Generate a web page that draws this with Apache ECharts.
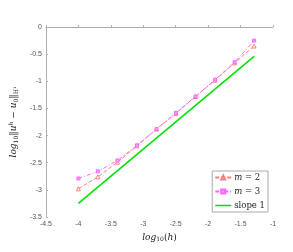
<!DOCTYPE html>
<html>
<head>
<meta charset="utf-8">
<script src="https://cdn.jsdelivr.net/npm/echarts@6/dist/echarts.min.js"></script>
<style>html,body{margin:0;padding:0;background:#fff;}#c{width:293px;height:252px;}</style>
</head>
<body>
<div id="c"></div>
<script>
const logH = [-4, -3.699, -3.398, -3.097, -2.796, -2.495, -2.194, -1.893, -1.592, -1.291];
const errM2 = [-2.98, -2.76, -2.49, -2.19, -1.88, -1.59, -1.28, -0.98, -0.66, -0.35];
const errM3 = [-2.79, -2.66, -2.46, -2.18, -1.88, -1.58, -1.28, -0.97, -0.65, -0.25];
const slopeX = [-4, -1.291];
const slopeY = [-3.25, -0.541];
const seriesNames = ['m2', 'm3', 'slope'];

const chart = echarts.init(document.getElementById('c'));
const axisCommon = {
  axisLine: {show: true, lineStyle: {color: '#b0b0b0', width: 1}},
  axisTick: {show: true, inside: true, length: 2, lineStyle: {color: '#b0b0b0'}},
  axisLabel: {color: '#555', fontSize: 7, fontFamily: 'Liberation Sans, Arial', margin: 4},
  splitLine: {show: false}
};
const zip = (a, b) => a.map((v, i) => [v, b[i]]);
chart.setOption({
  animation: false,
  grid: {left: 32, right: 20, top: 27, bottom: 35},
  xAxis: Object.assign({
    type: 'value', min: -4.5, max: -1, interval: 0.5,
    name: '{i|log}{s|10}{n|(}{i|h}{n|)}', nameLocation: 'middle', nameGap: 12,
    nameTextStyle: {rich: {
      i: {fontFamily: 'DejaVu Serif, Liberation Serif', fontStyle: 'italic', fontSize: 9, color: '#222'},
      s: {fontFamily: 'DejaVu Serif, Liberation Serif', fontSize: 6, color: '#222', padding: [5, 0, 0, 0]},
      n: {fontFamily: 'DejaVu Serif, Liberation Serif', fontSize: 9, color: '#222'}
    }}
  }, axisCommon),
  yAxis: Object.assign({
    type: 'value', min: -3.5, max: 0, interval: 0.5,
    name: '{i|log}{s|10}{n|‖}{i|u}{p|h}{n| − }{i|u}{s|0}{n|‖}{s|H¹}', nameLocation: 'middle', nameGap: 17, nameRotate: 90,
    nameTextStyle: {rich: {
      i: {fontFamily: 'DejaVu Serif, Liberation Serif', fontStyle: 'italic', fontSize: 9, color: '#222'},
      s: {fontFamily: 'DejaVu Serif, Liberation Serif', fontSize: 6, color: '#222', padding: [5, 0, 0, 0]},
      p: {fontFamily: 'DejaVu Serif, Liberation Serif', fontStyle: 'italic', fontSize: 6, color: '#222', padding: [0, 0, 5, 0]},
      n: {fontFamily: 'DejaVu Serif, Liberation Serif', fontSize: 9, color: '#222'}
    }}
  }, axisCommon),
  legend: {
    right: 25, bottom: 40, orient: 'vertical',
    backgroundColor: '#fff', borderColor: '#aaa', borderWidth: 1, borderRadius: 0,
    padding: [2, 3, 2, 2], itemGap: 5, itemWidth: 16, itemHeight: 5,
    data: [
      {name: seriesNames[0]},
      {name: seriesNames[1]},
      {name: seriesNames[2], icon: 'path://M0,0L16,0L16,1.5L0,1.5Z'}
    ],
    symbolKeepAspect: true,
    formatter: function (n) {
      if (n === 'm2') return '{i|m} = 2';
      if (n === 'm3') return '{i|m} = 3';
      return 'slope 1';
    },
    textStyle: {fontFamily: 'DejaVu Serif, Liberation Serif', fontSize: 8.5, color: '#222', padding: [0,0,0,-2],
      rich: {i: {fontFamily: 'DejaVu Serif, Liberation Serif', fontStyle: 'italic', fontSize: 8.5, color: '#222'}}}
  },
  series: [
    {name: 'm2', type: 'line', data: zip(logH, errM2), symbol: 'triangle', symbolSize: 4,
     itemStyle: {color: '#fff', borderColor: '#ff8080', borderWidth: 1},
     lineStyle: {color: '#ff8080', width: 1, type: [4, 2]}},
    {name: 'm3', type: 'line', data: zip(logH, errM3), symbol: 'rect', symbolSize: 3,
     itemStyle: {color: '#ff9cff', borderColor: '#ff66ff', borderWidth: 1},
     lineStyle: {color: '#ff66ff', width: 1, type: [4, 2, 1, 2]}},
    {name: 'slope', type: 'line', data: zip(slopeX, slopeY), symbol: 'none',
     itemStyle: {color: '#00e000'},
     lineStyle: {color: '#00e000', width: 1.5}}
  ]
});
</script>
</body>
</html>
